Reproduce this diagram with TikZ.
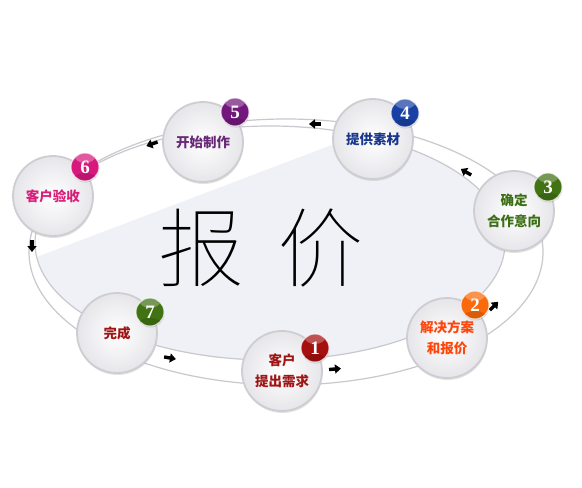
\documentclass[tikz,border=0pt]{standalone}
\usepackage{fontspec}
\newfontfamily\cjk{Noto Sans CJK SC}
\newfontfamily\thincjk{Noto Sans CJK SC Thin}
\newfontfamily\digitfont{Liberation Serif}
\usetikzlibrary{shadows,arrows.meta}
\definecolor{ringline}{RGB}{200,200,206}
\definecolor{innerfill}{RGB}{240,241,247}
\definecolor{nodeedge}{RGB}{205,205,210}
\definecolor{nodeouter}{RGB}{230,230,234}
\definecolor{bOne}{RGB}{165,15,15}
\definecolor{bTwo}{RGB}{250,105,10}
\definecolor{bThree}{RGB}{65,115,20}
\definecolor{bFour}{RGB}{25,65,165}
\definecolor{bFive}{RGB}{115,25,125}
\definecolor{bSix}{RGB}{215,25,125}
\definecolor{bSeven}{RGB}{65,115,20}
\definecolor{tOne}{RGB}{160,20,20}
\definecolor{tTwo}{RGB}{255,70,10}
\definecolor{tThree}{RGB}{60,110,20}
\definecolor{tFour}{RGB}{25,55,140}
\definecolor{tFive}{RGB}{105,40,120}
\definecolor{tSix}{RGB}{215,30,120}
\definecolor{tSeven}{RGB}{160,20,20}
\begin{document}
\begin{tikzpicture}[x=1pt,y=-1pt,
  stepnode/.style={circle, minimum size=80pt, inner sep=0pt, draw=nodeedge,
    line width=1.8pt, inner color=white, outer color=nodeouter,
    drop shadow={opacity=0.22, shadow xshift=0.5pt, shadow yshift=-2pt},
    align=center, font=\cjk\bfseries\fontsize{13.5}{21}\selectfont},
  badge/.style={circle, minimum size=28pt, inner sep=0pt,
    fill=#1, draw=white, draw opacity=0.7, line width=1pt,
    drop shadow={opacity=0.25, shadow xshift=0.5pt, shadow yshift=-1.5pt},
    path picture={
      \fill[white, opacity=0.28] ([yshift=-2pt]path picture bounding box.north) ellipse [x radius=11pt, y radius=8pt];
      \fill[black, opacity=0.12] ([yshift=2pt]path picture bounding box.south) ellipse [x radius=12pt, y radius=6pt];
    },
    text=white,
    font=\digitfont\bfseries\fontsize{19}{19}\selectfont},
  flowarr/.style={line width=3.4pt, black, -{Triangle[length=6pt,width=9pt]}},
  ring/.style={draw=ringline, line width=1.2pt}]
\useasboundingbox (0,0) rectangle (582,488);
\fill[white] (0,0) rectangle (582,488);
% inner shaded area
\begin{scope}
  \clip (-100,309) -- (700,5) -- (700,600) -- (-100,600) -- cycle;
  \fill[innerfill] (270,243) ellipse [x radius=235pt, y radius=117pt];
\end{scope}
\draw[ring] (286,252) ellipse [x radius=257pt, y radius=133pt];
\draw[ring] (270,243) ellipse [x radius=235pt, y radius=117pt];
% big title
\node[font=\thincjk\fontsize{86}{86}\selectfont, text=black] (title) at (261,248) {报\hspace{34pt}价};
% flow arrows
\coordinate (a12) at (335,369);
\coordinate (a23) at (494,306);
\coordinate (a34) at (466,172);
\coordinate (a45) at (315,124);
\coordinate (a56) at (152,144);
\coordinate (a67) at (32,246);
\coordinate (a71) at (170,358);
\draw[flowarr] (a12) ++(185:6pt) -- ++(5:12pt);
\draw[flowarr] (a23) ++(225:6pt) -- ++(45:12pt);
\draw[flowarr] (a34) ++(330:6pt) -- ++(150:12pt);
\draw[flowarr] (a45) ++(0:6pt) -- ++(180:12pt);
\draw[flowarr] (a56) ++(20:6pt) -- ++(200:12pt);
\draw[flowarr] (a67) ++(90:6pt) -- ++(270:12pt);
\draw[flowarr] (a71) ++(170:6pt) -- ++(-10:12pt);
% step nodes
\node[stepnode, text=tOne] (n1) at (282,371) {客户\\提出需求};
\node[stepnode, text=tTwo] (n2) at (447,338) {解决方案\\和报价};
\node[stepnode, text=tThree] (n3) at (514,211) {确定\\合作意向};
\node[stepnode, text=tFour] (n4) at (373,139) {提供素材};
\node[stepnode, text=tFive] (n5) at (203,142) {开始制作};
\node[stepnode, text=tSix] (n6) at (53,196) {客户验收};
\node[stepnode, text=tSeven] (n7) at (117,333) {完成};
% badges
\node[badge=bOne] (b1) at (315,348) {1};
\node[badge=bTwo] (b2) at (475,305) {2};
\node[badge=bThree] (b3) at (548,187) {3};
\node[badge=bFour] (b4) at (405,113) {4};
\node[badge=bFive] (b5) at (235,112) {5};
\node[badge=bSix] (b6) at (85,167) {6};
\node[badge=bSeven] (b7) at (150,312) {7};
\end{tikzpicture}
\end{document}
